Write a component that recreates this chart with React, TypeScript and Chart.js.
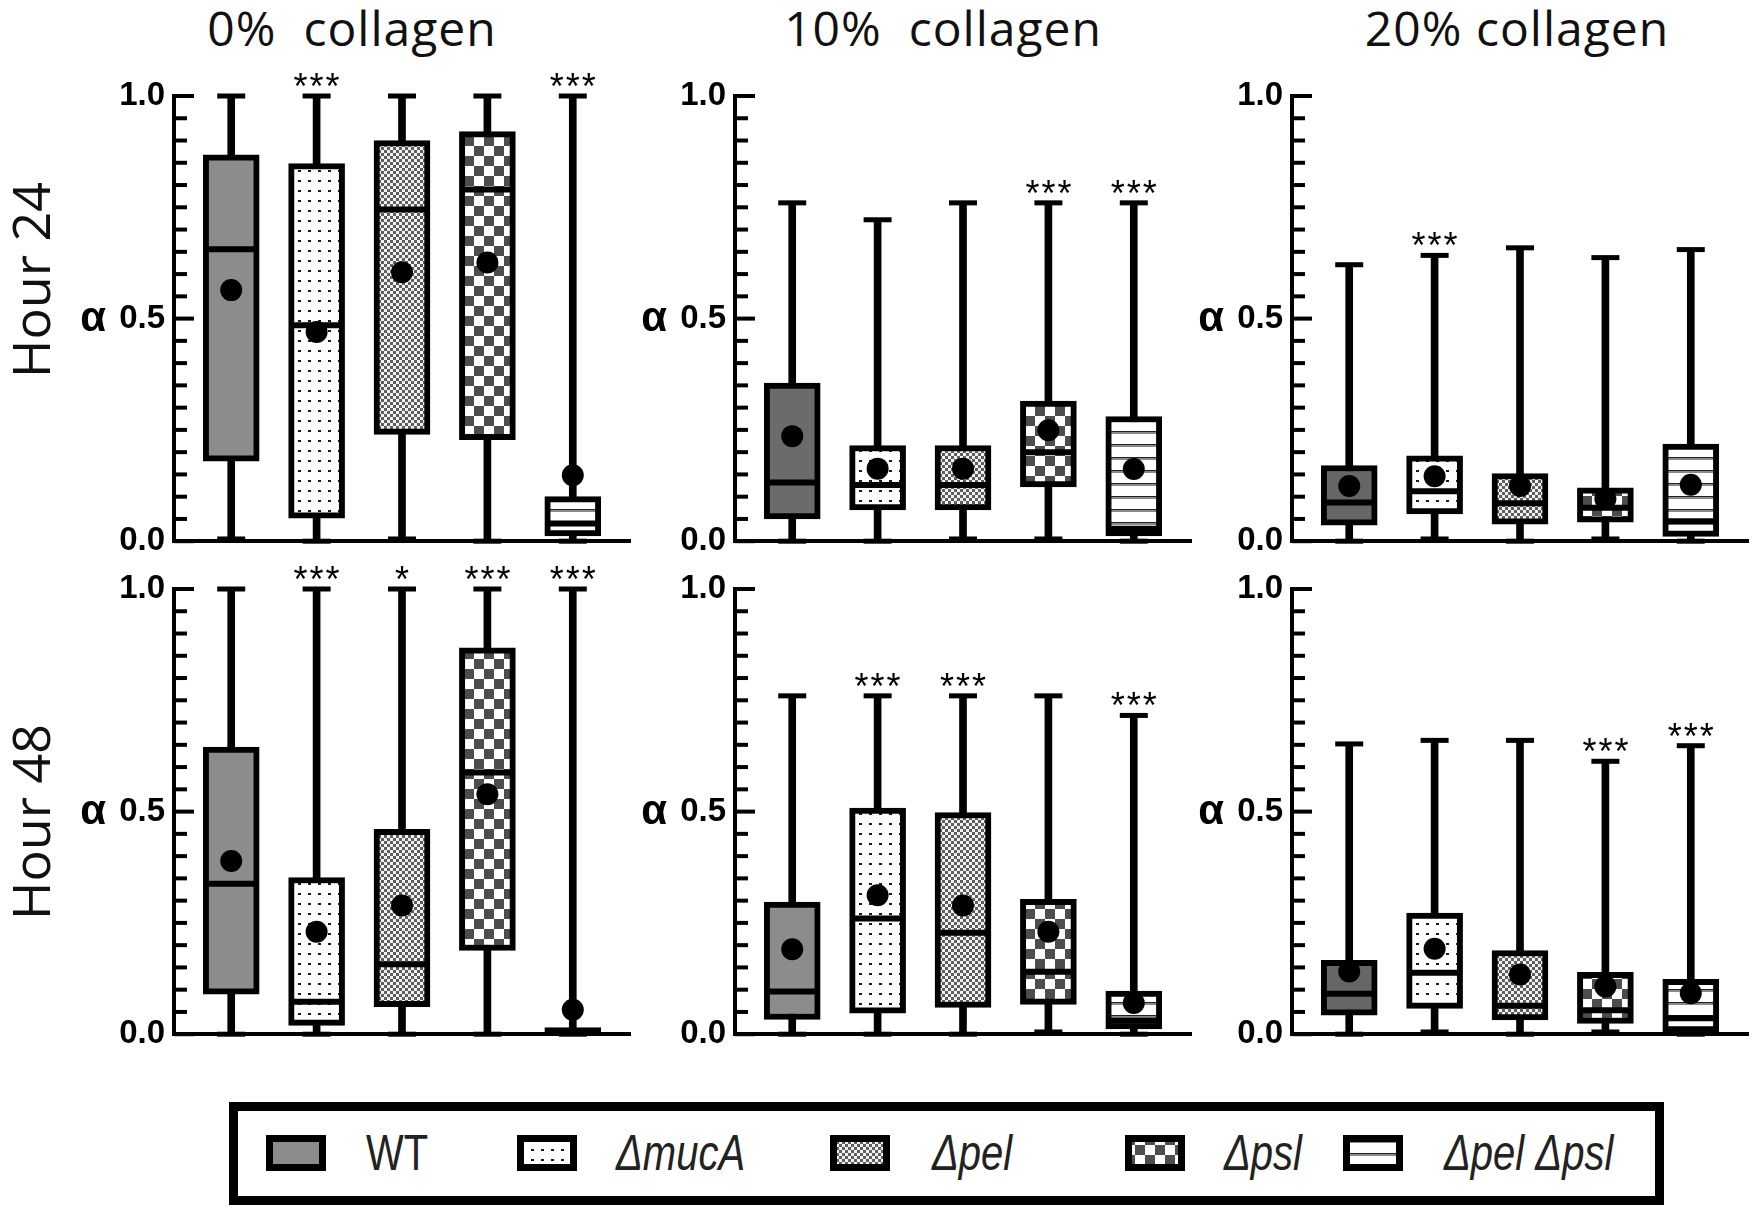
import React, { useEffect, useRef } from "react";
import { Chart, registerables } from "chart.js";

Chart.register(...registerables);

// ---------------- data ----------------
const strains = ["WT", "ΔmucA", "Δpel", "Δpsl", "Δpel Δpsl"];
const strainPositions = [1, 2, 3, 4, 5];
const collagenTitles = ["0%  collagen", "10%  collagen", "20% collagen"];
const hourLabels = ["Hour 24", "Hour 48"];
const yAxisName = "α";

// Hour 24, 0% collagen
const h24c0Min = [0.005, 0, 0.005, 0, 0];
const h24c0Q1 = [0.18, 0.052, 0.24, 0.228, 0.012];
const h24c0Median = [0.656, 0.485, 0.745, 0.79, 0.04];
const h24c0Q3 = [0.868, 0.848, 0.9, 0.92, 0.1];
const h24c0Max = [1, 1, 1, 1, 1];
const h24c0Mean = [0.564, 0.47, 0.604, 0.626, 0.148];
const h24c0Sig = ["", "***", "", "", "***"];

// Hour 24, 10% collagen
const h24c10Min = [0, 0, 0.005, 0.005, 0];
const h24c10Q1 = [0.05, 0.07, 0.07, 0.122, 0.012];
const h24c10Median = [0.132, 0.126, 0.126, 0.2, 0.028];
const h24c10Q3 = [0.355, 0.215, 0.215, 0.315, 0.28];
const h24c10Max = [0.76, 0.722, 0.76, 0.76, 0.76];
const h24c10Mean = [0.236, 0.163, 0.163, 0.249, 0.162];
const h24c10Sig = ["", "", "", "***", "***"];

// Hour 24, 20% collagen
const h24c20Min = [0, 0.005, 0, 0.005, 0];
const h24c20Q1 = [0.036, 0.061, 0.038, 0.043, 0.011];
const h24c20Median = [0.087, 0.112, 0.085, 0.075, 0.045];
const h24c20Q3 = [0.17, 0.192, 0.152, 0.12, 0.218];
const h24c20Max = [0.621, 0.642, 0.659, 0.637, 0.655];
const h24c20Mean = [0.124, 0.146, 0.124, 0.095, 0.127];
const h24c20Sig = ["", "***", "", "", ""];

// Hour 48, 0% collagen
const h48c0Min = [0, 0, 0, 0, 0];
const h48c0Q1 = [0.09, 0.02, 0.062, 0.188, 0.0];
const h48c0Median = [0.338, 0.073, 0.157, 0.588, 0.005];
const h48c0Q3 = [0.645, 0.352, 0.46, 0.868, 0.015];
const h48c0Max = [1, 1, 1, 1, 1];
const h48c0Mean = [0.389, 0.23, 0.289, 0.539, 0.055];
const h48c0Sig = ["", "***", "*", "***", "***"];

// Hour 48, 10% collagen
const h48c10Min = [0, 0, 0, 0.005, 0];
const h48c10Q1 = [0.033, 0.047, 0.06, 0.067, 0.012];
const h48c10Median = [0.096, 0.26, 0.228, 0.14, 0.03];
const h48c10Q3 = [0.297, 0.508, 0.498, 0.303, 0.097];
const h48c10Max = [0.76, 0.76, 0.76, 0.76, 0.716];
const h48c10Mean = [0.191, 0.312, 0.289, 0.23, 0.07];
const h48c10Sig = ["", "***", "***", "", "***"];

// Hour 48, 20% collagen
const h48c20Min = [0, 0.005, 0, 0.005, 0];
const h48c20Q1 = [0.043, 0.058, 0.032, 0.024, 0.005];
const h48c20Median = [0.091, 0.138, 0.064, 0.054, 0.036];
const h48c20Q3 = [0.166, 0.272, 0.188, 0.139, 0.123];
const h48c20Max = [0.652, 0.66, 0.66, 0.613, 0.648];
const h48c20Mean = [0.141, 0.192, 0.134, 0.107, 0.092];
const h48c20Sig = ["", "", "", "***", "***"];

type PanelData = {
  min: number[]; q1: number[]; med: number[]; q3: number[];
  max: number[]; mean: number[]; sig: string[];
};

const panels: PanelData[] = [
  { min: h24c0Min, q1: h24c0Q1, med: h24c0Median, q3: h24c0Q3, max: h24c0Max, mean: h24c0Mean, sig: h24c0Sig },
  { min: h24c10Min, q1: h24c10Q1, med: h24c10Median, q3: h24c10Q3, max: h24c10Max, mean: h24c10Mean, sig: h24c10Sig },
  { min: h24c20Min, q1: h24c20Q1, med: h24c20Median, q3: h24c20Q3, max: h24c20Max, mean: h24c20Mean, sig: h24c20Sig },
  { min: h48c0Min, q1: h48c0Q1, med: h48c0Median, q3: h48c0Q3, max: h48c0Max, mean: h48c0Mean, sig: h48c0Sig },
  { min: h48c10Min, q1: h48c10Q1, med: h48c10Median, q3: h48c10Q3, max: h48c10Max, mean: h48c10Mean, sig: h48c10Sig },
  { min: h48c20Min, q1: h48c20Q1, med: h48c20Median, q3: h48c20Q3, max: h48c20Max, mean: h48c20Mean, sig: h48c20Sig },
];

// ---------------- styles / geometry ----------------
const WT_SHADES = ["#8c8c8c", "#6b6b6b", "#666666", "#8c8c8c", "#8c8c8c", "#666666"];
const COL_AXIS_X = [174, 735, 1292];
const ROW_TOP_Y = [96, 589];
const PLOT_W = 456;
const PLOT_H = 452;
const Y_AXIS_W = 150;
const PAD_TOP = 60;
const PAD_RIGHT = 6;
const PAD_BOTTOM = 20;
const X_AXIS_H = 2;
const CW = Y_AXIS_W + PLOT_W + PAD_RIGHT;
const CH = PAD_TOP + PLOT_H + X_AXIS_H + PAD_BOTTOM;
const TITLE_X = [352, 943, 1517];
const ROW_LABEL_Y = [280, 822];
const LEG_SW_X = [266, 517, 830, 1125, 1343];
const LEG_TX_X = [366, 616, 932, 1224, 1444];

function makeFill(kind: number, wtColor: string): string | CanvasPattern {
  if (kind === 0) return wtColor;
  const c = document.createElement("canvas");
  const g = c.getContext("2d")!;
  if (kind === 1) {
    c.width = 10; c.height = 10;
    g.fillStyle = "#fff"; g.fillRect(0, 0, 10, 10);
    g.fillStyle = "#1a1a1a"; g.fillRect(4, 4, 3, 2);
  } else if (kind === 2) {
    c.width = 6; c.height = 6;
    g.fillStyle = "#f2f2f2"; g.fillRect(0, 0, 6, 6);
    g.fillStyle = "#5e5e5e"; g.fillRect(0, 0, 3, 3); g.fillRect(3, 3, 3, 3);
  } else if (kind === 3) {
    c.width = 20; c.height = 20;
    g.fillStyle = "#fff"; g.fillRect(0, 0, 20, 20);
    g.fillStyle = "#4d4d4d"; g.fillRect(0, 0, 10, 10); g.fillRect(10, 10, 10, 10);
  } else {
    c.width = 4; c.height = 13;
    g.fillStyle = "#fff"; g.fillRect(0, 0, 4, 13);
    g.fillStyle = "#222"; g.fillRect(0, 5, 4, 1);
    g.fillStyle = "#8a8a8a"; g.fillRect(0, 6, 4, 2);
  }
  return g.createPattern(c, "repeat")!;
}

const isLabelled = (v: number) => Math.abs(v * 2 - Math.round(v * 2)) < 1e-6;

function BoxPanel({ idx }: { idx: number }) {
  const ref = useRef<HTMLCanvasElement>(null);
  useEffect(() => {
    const canvas = ref.current!;
    const p = panels[idx];
    const fills = strains.map((_, k) => makeFill(k, WT_SHADES[idx]));

    const decor = {
      id: "decor",
      beforeDatasetsDraw(chart: any) {
        const { ctx, chartArea } = chart;
        const y = chart.scales.y;
        ctx.save();
        ctx.strokeStyle = "#000";
        ctx.lineWidth = 4;
        y.ticks.forEach((t: any) => {
          const py = y.getPixelForValue(t.value);
          const len = isLabelled(t.value) ? 20 : 13;
          ctx.beginPath();
          ctx.moveTo(chartArea.left, py);
          ctx.lineTo(chartArea.left + len, py);
          ctx.stroke();
        });
        ctx.restore();
      },
      afterDraw(chart: any) {
        const { ctx, chartArea } = chart;
        const x = chart.scales.x;
        const y = chart.scales.y;
        ctx.save();
        ctx.fillStyle = "#000";
        ctx.font = 'bold 42px "Liberation Sans"';
        ctx.textAlign = "right";
        ctx.textBaseline = "alphabetic";
        ctx.fillText(yAxisName, chartArea.left - 68, y.getPixelForValue(0.5) + 12);
        ctx.font = '36px "Liberation Sans"';
        ctx.textAlign = "center";
        p.sig.forEach((s, i) => {
          if (!s) return;
          const px = x.getPixelForValue(strainPositions[i]);
          const py = y.getPixelForValue(p.max[i]);
          const n = s.length;
          for (let k = 0; k < n; k++) {
            ctx.fillText(s[k], px + (k - (n - 1) / 2) * 16, py + 3);
          }
        });
        ctx.restore();
      },
    };

    const chart = new Chart(canvas, {
      type: "bar",
      data: {
        datasets: [
          {
            type: "bar",
            label: "whisker",
            data: strainPositions.map((xv, i) => ({ x: xv, y: [p.min[i], p.max[i]] })) as any,
            backgroundColor: "#000",
            borderWidth: 0,
            barThickness: 7,
            grouped: false,
            order: 5,
            clip: false as any,
          },
          {
            type: "bar",
            label: "box",
            data: strainPositions.map((xv, i) => ({ x: xv, y: [p.q1[i], p.q3[i]] })) as any,
            backgroundColor: fills as any,
            borderColor: "#000",
            borderWidth: 6,
            borderSkipped: false,
            barThickness: 56,
            grouped: false,
            order: 4,
            clip: false as any,
          },
          {
            type: "scatter",
            label: "median",
            data: strainPositions.map((xv, i) => ({ x: xv, y: p.med[i] })),
            pointStyle: "line",
            pointRadius: 27,
            pointHoverRadius: 27,
            pointBorderColor: "#000",
            pointBorderWidth: 6,
            pointHoverBorderWidth: 6,
            showLine: false,
            order: 3,
            clip: false as any,
          },
          {
            type: "scatter",
            label: "caps",
            data: [
              ...strainPositions.map((xv, i) => ({ x: xv, y: p.max[i] })),
              ...strainPositions.map((xv, i) => ({ x: xv, y: p.min[i] })),
            ],
            pointStyle: "line",
            pointRadius: 14,
            pointHoverRadius: 14,
            pointBorderColor: "#000",
            pointBorderWidth: 5,
            pointHoverBorderWidth: 5,
            showLine: false,
            order: 2,
            clip: false as any,
          },
          {
            type: "scatter",
            label: "mean",
            data: strainPositions.map((xv, i) => ({ x: xv, y: p.mean[i] })),
            pointStyle: "circle",
            pointRadius: 11,
            pointHoverRadius: 11,
            pointBackgroundColor: "#000",
            pointBorderColor: "#000",
            pointBorderWidth: 0,
            showLine: false,
            order: 1,
            clip: false as any,
          },
        ] as any,
      },
      options: {
        responsive: false,
        animation: false,
        devicePixelRatio: 1,
        events: [],
        layout: {
          padding: { left: 0, top: PAD_TOP, right: PAD_RIGHT, bottom: PAD_BOTTOM },
          autoPadding: false,
        } as any,
        plugins: { legend: { display: false }, tooltip: { enabled: false }, title: { display: false } },
        scales: {
          x: {
            type: "linear",
            min: 0.33,
            max: 5.67,
            offset: false,
            grid: { display: false, drawTicks: false, tickLength: 0 },
            border: { display: true, color: "#000", width: 4 },
            ticks: { display: false },
            afterFit: (s: any) => { s.height = X_AXIS_H; },
          },
          y: {
            type: "linear",
            min: 0,
            max: 1,
            grid: { display: false, drawTicks: false, tickLength: 0 },
            border: { display: true, color: "#000", width: 4 },
            ticks: {
              stepSize: 0.05,
              autoSkip: false,
              padding: 9,
              color: "#000",
              font: { family: "Liberation Sans", size: 33, weight: "bold" },
              callback: (v: any) => (isLabelled(Number(v)) ? Number(v).toFixed(1) : ""),
            },
            afterFit: (s: any) => { s.width = Y_AXIS_W; },
          },
        } as any,
      },
      plugins: [decor],
    });
    return () => chart.destroy();
  }, [idx]);

  const col = idx % 3;
  const row = Math.floor(idx / 3);
  return (
    <canvas
      ref={ref}
      width={CW}
      height={CH}
      style={{ position: "absolute", left: COL_AXIS_X[col] - Y_AXIS_W, top: ROW_TOP_Y[row] - PAD_TOP, width: CW, height: CH }}
    />
  );
}

function LegendSwatch({ kind }: { kind: number }) {
  const ref = useRef<HTMLCanvasElement>(null);
  useEffect(() => {
    const c = ref.current!;
    const g = c.getContext("2d")!;
    g.clearRect(0, 0, c.width, c.height);
    g.fillStyle = "#000";
    g.fillRect(0, 0, c.width, c.height);
    g.fillStyle = makeFill(kind, "#8c8c8c") as any;
    g.fillRect(7, 7, c.width - 14, c.height - 14);
  }, [kind]);
  return (
    <canvas
      ref={ref}
      width={60}
      height={36}
      style={{ position: "absolute", left: LEG_SW_X[kind], top: 1135, width: 60, height: 36 }}
    />
  );
}

export default function App() {
  return (
    <div style={{ position: "absolute", left: 0, top: 0, width: 1755, height: 1215, background: "#fff", overflow: "hidden" }}>
      {collagenTitles.map((t, c) => (
        <div
          key={t}
          style={{
            position: "absolute", left: TITLE_X[c], top: 4, transform: "translateX(-50%)",
            font: '48px "Open Sans"', lineHeight: "48px", letterSpacing: "1px", whiteSpace: "pre", color: "#111",
          }}
        >
          {t}
        </div>
      ))}
      {hourLabels.map((h, r) => (
        <div
          key={h}
          style={{
            position: "absolute", left: 30, top: ROW_LABEL_Y[r], transform: "translate(-50%, -50%) rotate(-90deg)",
            font: '52px "Open Sans"', lineHeight: "52px", whiteSpace: "pre", color: "#111",
          }}
        >
          {h}
        </div>
      ))}
      {panels.map((_, i) => (
        <BoxPanel key={i} idx={i} />
      ))}
      <div
        style={{
          position: "absolute", left: 229, top: 1102, width: 1435, height: 103,
          border: "9px solid #000", boxSizing: "border-box",
        }}
      />
      {strains.map((s, i) => (
        <React.Fragment key={s}>
          <LegendSwatch kind={i} />
          <div
            style={{
              position: "absolute", left: LEG_TX_X[i], top: 1153, transform: "translateY(-50%) scaleX(0.8)",
              transformOrigin: "left center",
              font: `${i === 0 ? "normal" : "italic"} 50px "Liberation Sans", sans-serif`,
              lineHeight: "50px", whiteSpace: "pre", color: "#222",
            }}
          >
            {s}
          </div>
        </React.Fragment>
      ))}
    </div>
  );
}
